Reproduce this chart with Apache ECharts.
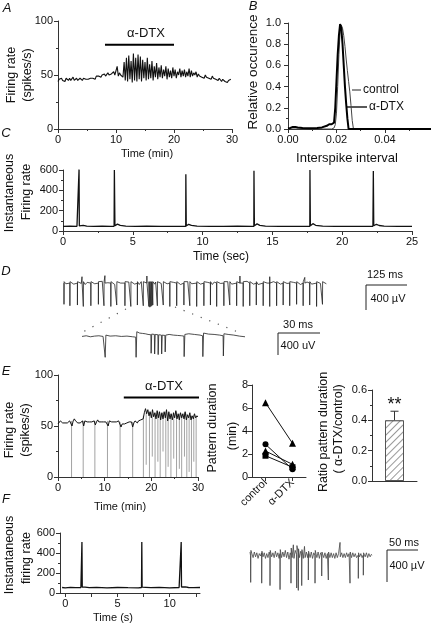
<!DOCTYPE html>
<html><head><meta charset="utf-8">
<script src="https://cdn.jsdelivr.net/npm/echarts@6/dist/echarts.min.js"></script>
<style>html,body{margin:0;padding:0;background:#fff}#c{width:431px;height:626px}</style>
</head><body><div id="c"></div>
<script>
// ---------- DATA ----------
// Panel A: firing rate (spikes/s), sampled every 0.2 min from 0 min
const aStep = 0.2;
const aVals = [
 44,46,45,47,45, 46,44,47,46,45, 47,45,46,48,45, 46,47,45,46,47, 46,45,47,46,46,
 47,46,45,47,46, 47,48,46,49,48, 49,50,48,50,49, 51,49,50,52,50, 49,51,50,53,50,
 51,58,49,52,50, 50,48,62,45,66, 44,68,46,63,43, 70,45,66,44,69, 46,67,44,64,47,
 62,45,66,46,60, 47,63,45,58,48, 61,46,57,48,59, 47,55,49,58,46, 56,48,54,47,57,
 49,55,47,53,50, 56,48,54,49,55, 48,53,49,56,48, 54,49,52,50,53, 48,51,49,50,48,
 49,47,50,48,49, 47,48,46,49,47, 48,46,47,45,47, 46,44,46,45,44, 45,43,45,44,46
];
const aDrugBar = [[8.1, 78], [20, 78]];

// Panel B: interspike interval histograms
const bCtrlX = [0,0.018,0.019,0.0195,0.020,0.0205,0.021,0.0215,0.022,0.0225,0.023,0.0235,0.024,0.0245,0.025,0.0255,0.026,0.0265,0.027,0.059];
const bCtrlY = [0,0,0.01,0.04,0.15,0.4,0.7,0.92,0.98,0.95,0.88,0.78,0.66,0.55,0.45,0.35,0.22,0.08,0,0];
const bDtxX = [0,0.001,0.002,0.003,0.004,0.006,0.009,0.012,0.014,0.016,0.017,0.0175,0.018,0.0185,0.019,0.0195,0.020,0.0205,0.021,0.0215,0.022,0.0225,0.023,0.0235,0.024,0.0245,0.025,0.059];
const bDtxY = [0.005,0.01,0.02,0.02,0.015,0.01,0.008,0.01,0.015,0.03,0.045,0.05,0.045,0.04,0.06,0.2,0.45,0.7,0.88,0.99,0.95,0.8,0.6,0.4,0.24,0.1,0,0];

// Panel C: instantaneous firing rate (time s, rate)
const cTrace = [[0,45],[0.5,47],[1.0,46],[1.1,60],[1.13,45],[1.15,606],[1.17,50],[1.3,62],[1.45,55],[1.7,48],[2.2,46],[2.8,47],[3.4,45],[3.66,46],[3.68,600],[3.72,52],[3.9,68],[4.1,55],[4.5,48],[5.2,46],[6,47],[7,45],[8,46],[8.6,45],[8.79,46],[8.8,557],[8.83,50],[9.0,66],[9.2,55],[9.6,47],[10.5,46],[11.5,45],[12.5,47],[13.5,46],[13.67,45],[13.68,593],[13.71,52],[13.9,70],[14.1,56],[14.5,48],[15.5,46],[16.5,45],[17.5,46],[17.68,46],[17.69,600],[17.72,52],[17.9,72],[18.1,56],[18.6,47],[19.5,45],[20.5,46],[21.5,45],[22.2,46],[22.23,590],[22.26,52],[22.45,66],[22.65,54],[23,47],[24,46],[25,45]];

// Panel D: extracellular recording, spike times (ms) and depths (uV)
const dSpikeT = [12,30,53,71,94,117,134,155,173,198, 216,236,254,271,274,277,280,283,297,315,
 335,356,378,396,417,439,459,478,500,518, 539,559,579,599,620,640,661,681,701,722, 742,762,783,801];
const dSpikeA = [300,320,310,330,320,300,320,330,310,320, 330,310,320,330,340,330,320,310,320,310,
 330,320,310,320,330,320,310,330,320,310, 320,330,320,310,320,330,320,310,320,300, 320,310,330,300];
const dNoise = [-10,15, 5,-15, 20,-5, -20,10, 15,-10, 0,25, -15,5, 10,-20, 25,0, -5,15,
 10,-15, -20,20, 5,-10, 15,-5, -10,10, 20,-15, 0,15, -15,5, 10,-5, 25,-10,
 -5,10, 15,-20, 0,20, -10,5, 20,-15, 5,10, -20,15, 10,-5, 0,20, -15,10,
 15,-10, -5,25, 10,-15, -20,5, 15,0, -10,20, 5,-15, 20,-5, -5,10, 10,-20,
 0,15, -15,10, 20,-5, 5,-10];
const dUpT = [67,137,265,549,640,747];
const dUpV = [90,110,100,100,90,80];
const dInset = [[0,-10],[3,0],[6,-15],[9,-5],[12,0],[15,-10],[16.2,-5],[16.5,-320],[17,10],[20,-5],[24,0],[28,-10],[32,-5],[36,-15],[38.2,-20],[38.5,-320],[39,60],[41,40],[43,35],[45,30],[47,20],[49,15],[49.2,-260],[49.6,25],[51.5,20],[51.7,-270],[52.1,20],[54,15],[54.2,-280],[54.6,15],[56.5,10],[56.7,-270],[57.1,10],[59,5],[59.2,-240],[59.6,10],[62,20],[65,10],[68,5],[71,0],[72.5,-5],[72.7,-310],[73.2,20],[76,30],[80,20],[84,10],[85.8,0],[86,-310],[86.5,40],[90,25],[94,20],[98,10],[100.4,0],[100.6,-300],[101,30],[104,20],[108,10],[112,-5],[116,-15]];

// Panel E: firing rate, every 0.25 min from 0
const eStep = 0.25;
const eVals = [
 52,53,55,54, 53,52,53,52, 53,54,55,54, 50,55,57,55, 54,53,54,53, 54,55,50,55,
 56,54,53,54, 53,54,53,55, 51,54,56,54, 53,54,53,54, 53,54,55,50, 55,56,54,53,
 54,53,54,53, 55,54,49,52, 51,52,51,53, 52,54,55,54, 49,53,55,54, 53,55,54,56,
 55,57,63,67, 62,66,60,64, 58,66,59,63, 57,65,58,64, 56,63,57,64, 58,66,55,64,
 57,62,56,63, 58,65,57,62, 56,63,58,62, 57,64,56,61, 58,63,56,60, 57,62,58,60, 59
];
const eDropT  = [2.9,5.4,7.9,10.6,13.3,16.0,18.3,18.9,19.6,20.2,20.8,21.4,21.9,22.5,23.1,23.6,24.2,24.8,25.4,26.0,26.5,27.1,27.6,28.1,28.6,29.1,29.6];
const eDropHi = [55,55,55,55,54,54,60,63,64,62,63,64,62,63,64,63,62,63,64,62,61,63,62,61,60,61,59];
const eDropLo = [0,0,0,0,0,0,0,12,0,20,0,15,0,25,0,10,0,18,0,8,0,20,0,5,0,15,0];
const eDrugBar = [[14.1, 78], [30.8, 78]];
const pdCategories = ['control', 'α-DTX'];
const pdSubjects = [
 {symbol:'triangle', values:[6.46, 2.93]},
 {symbol:'circle', values:[2.84, 0.67]},
 {symbol:'triangle', values:[2.26, 1.10]},
 {symbol:'rect', values:[1.85, 0.85]}
];
const ratioValue = 0.40, ratioLo = 0.34, ratioHi = 0.46;

// Panel F
const fTrace = [[-0.3,55],[0,52],[0.5,56],[1.0,53],[1.5,55],[1.58,55],[1.6,510],[1.63,58],[1.75,70],[1.9,58],[2.3,53],[3,56],[4,52],[5,55],[6,53],[7.0,52],[7.3,55],[7.33,510],[7.36,58],[7.5,64],[7.7,56],[8.2,53],[9,56],[10,52],[10.9,55],[11.08,55],[11.1,510],[11.13,60],[11.3,76],[11.5,62],[11.8,55],[12.3,53],[12.9,55]];
const fRaw = [[0,40],[0.8,0],[1.1,-340],[1.5,60],[3,20],[5,-30],[7,40],[9,-20],[11,30],[13,-40],[15,20],[17,-10],[18.6,30],[18.9,-350],[19.3,50],[21,-20],[23,30],[25,-40],[27,20],[29,-30],[31,40],[32.1,0],[32.3,-380],[32.7,60],[35,-20],[37,30],[39,-30],[41,50],[43,-20],[45,30],[47,-40],[48.3,20],[48.5,-430],[48.9,70],[51,-30],[53,40],[55,-20],[57,60],[59,-30],[61,40],[63,-50],[65,30],[66,0],[66.2,-350],[66.6,90],[68,-30],[70,130],[71,-40],[73,60],[75.2,10],[75.4,-410],[75.8,120],[77.8,30],[78,-440],[78.4,80],[80,-30],[82,50],[83.3,20],[83.5,-380],[83.9,70],[86,-40],[88,110],[89,-30],[91,40],[93,-30],[94,20],[94.2,-310],[94.6,50],[97,-30],[99,40],[101,-40],[103,30],[104.8,0],[105,-350],[105.4,60],[108,-30],[110,40],[112,-40],[114,30],[115.6,0],[115.8,-260],[116.2,40],[119,-30],[121,30],[123,-40],[125,20],[126.3,0],[126.5,-310],[126.9,40],[129,-30],[131,30],[133,-30],[135,20],[137,-40],[139,30],[141,-30],[143,20],[145.2,0],[145.4,160],[145.8,-20],[148,30],[150,-30],[152,20],[154,-30],[156,30],[158,-20],[160,20],[161.3,0],[161.5,-350],[161.9,40],[164,-30],[166,30],[168,-20],[170,20],[172,-30],[174.7,0],[174.9,-290],[175.3,30],[177,-20],[179,20],[181,-30],[182.8,0],[183,-250],[183.4,30],[186,-20],[188,30],[190,-30],[192,20],[194,-20],[196,10],[197,0]];

// ---------- BUILD ----------
const FONT = '"Liberation Sans", Arial, sans-serif';
const AX = '#333';

const aData = aVals.map((v, i) => [+(i * aStep).toFixed(2), v]);
const eData = eVals.map((v, i) => [i * eStep, v]);
const bCtrl = bCtrlX.map((x, i) => [x, bCtrlY[i]]);
const bDtx = bDtxX.map((x, i) => [x, bDtxY[i]]);
const eDrops = [];
eDropT.forEach((t, i) => { eDrops.push([t, eDropHi[i]], [t, eDropLo[i]], [t, '-']); });

const dPts = [];
dSpikeT.forEach((t, i) => {
  dPts.push([t, 0], [t + 0.2, -dSpikeA[i]], [t + 0.6, 20]);
  dPts.push([t + 6, dNoise[2 * i]], [t + 12, dNoise[2 * i + 1]]);
});
dUpT.forEach((t, i) => { dPts.push([t, 0], [t + 0.2, dUpV[i]], [t + 0.5, 0]); });
dPts.sort((a, b) => a[0] - b[0]);

function vAxis(gi, min, max, interval, o) {
  o = o || {};
  const lab = {color:'#111', fontSize:11, fontFamily:FONT, margin:o.margin || 5};
  if (o.fmt) lab.formatter = o.fmt;
  if (o.noMax) lab.showMaxLabel = false;
  if (o.labels) lab.customValues = o.labels;
  const tick = {show:true, length:4, lineStyle:{color:AX}};
  if (o.ticks) tick.customValues = o.ticks;
  const ax = {
    type:'value', gridIndex:gi, min:min, max:max,
    axisLine:{show:true, onZero:false, lineStyle:{color:AX, width:1}},
    axisTick:tick,
    minorTick:{show:o.minor !== false, splitNumber:2, length:2, lineStyle:{color:AX}},
    splitLine:{show:false},
    axisLabel:lab
  };
  if (interval != null) ax.interval = interval;
  return ax;
}
function hAxis(gi, min, max) { return {type:'value', gridIndex:gi, min:min, max:max, show:false}; }

const grids = [
  {left:58, top:21, width:174, height:108},   // A
  {left:288, top:23, width:143, height:106},  // B
  {left:63, top:170, width:349, height:61},   // C
  {left:60, top:276, width:267, height:34},   // D top
  {left:82, top:325, width:163, height:35},   // D inset
  {left:58, top:375, width:140, height:102},  // E left
  {left:252, top:385, width:54, height:92},   // E mid
  {left:372, top:390, width:45, height:91},   // E right
  {left:60, top:533, width:140, height:60},   // F
  {left:250, top:540, width:122, height:52}   // F right
];

const xAxes = [
  vAxis(0, 0, 30, 10),
  vAxis(1, 0, 0.059, 0.02, {fmt: v => v.toFixed(2), noMax:true}),
  vAxis(2, 0, 25, 5),
  hAxis(3, 0, 815),
  hAxis(4, 0, 116),
  vAxis(5, 0, 30, 10),
  {type:'category', gridIndex:6, data:pdCategories, boundaryGap:true,
   axisLine:{show:true, lineStyle:{color:AX}}, axisTick:{show:true, alignWithLabel:true, length:4, lineStyle:{color:AX}},
   axisLabel:{rotate:45, interval:0, fontSize:11, fontFamily:FONT, color:'#111', margin:4}},
  {type:'category', gridIndex:7, data:[''], boundaryGap:true,
   axisLine:{show:true, lineStyle:{color:AX}}, axisTick:{show:false}, axisLabel:{show:false}},
  vAxis(8, -0.5, 12.9, null, {minor:false, labels:[0,5,10], ticks:[0,2.5,5,7.5,10,12.5]}),
  hAxis(9, 0, 197)
];
const yAxes = [
  vAxis(0, 0, 100, 50),
  vAxis(1, 0, 1, 0.2, {fmt: v => v.toFixed(1), margin:7}),
  vAxis(2, 0, 600, 200),
  hAxis(3, -380, 100),
  hAxis(4, -360, 160),
  vAxis(5, 0, 100, 50),
  vAxis(6, 0, 8, 2, {minor:false, margin:4}),
  vAxis(7, 0, 0.6, 0.2, {fmt: v => v.toFixed(1)}),
  vAxis(8, 0, 600, 200),
  hAxis(9, -460, 190)
];

function lineS(xi, data, color, width, extra) {
  return Object.assign({type:'line', xAxisIndex:xi, yAxisIndex:xi, data:data, symbol:'none',
    lineStyle:{color:color, width:width}, animation:false, silent:true}, extra || {});
}

const series = [
  lineS(0, aData, '#111', 1.1),
  lineS(0, aDrugBar, '#000', 2),
  lineS(1, bCtrl, '#444', 1),
  lineS(1, bDtx, '#000', 2),
  lineS(2, cTrace, '#111', 1.3),
  lineS(3, dPts, '#222', 0.8),
  lineS(4, dInset, '#222', 0.8),
  lineS(5, eDrops, '#999', 0.9, {connectNulls:false}),
  lineS(5, eData, '#111', 1),
  lineS(5, eDrugBar, '#000', 2, {clip:false}),
  lineS(8, fTrace, '#111', 1.3),
  lineS(9, fRaw, '#444', 0.8)
];
pdSubjects.forEach(s => {
  series.push({type:'line', xAxisIndex:6, yAxisIndex:6, data:s.values, symbol:s.symbol, symbolSize:s.symbol==='triangle'?7:6,
    itemStyle:{color:'#000'}, lineStyle:{color:'#111', width:1}, animation:false, silent:true});
});
series.push({type:'bar', xAxisIndex:7, yAxisIndex:7, data:[ratioValue], barWidth:19, animation:false, silent:true,
  itemStyle:{color:'#fff', borderColor:'#555', borderWidth:1,
    decal:{symbol:'rect', symbolSize:1, dashArrayX:[1,0], dashArrayY:[1,4], rotation:-Math.PI/4, color:'#999', backgroundColor:'#fff'}}});
series.push({type:'custom', xAxisIndex:7, yAxisIndex:7, data:[[0, ratioLo, ratioHi]], animation:false, silent:true,
  encode:{x:0, y:[1,2]},
  renderItem:function(params, api){
    const lo = api.coord([api.value(0), api.value(1)]);
    const hi = api.coord([api.value(0), api.value(2)]);
    const w = 4;
    return {type:'group', children:[
      {type:'line', shape:{x1:lo[0], y1:lo[1], x2:hi[0], y2:hi[1]}, style:{stroke:'#333', lineWidth:1}},
      {type:'line', shape:{x1:lo[0]-w, y1:lo[1], x2:lo[0]+w, y2:lo[1]}, style:{stroke:'#333', lineWidth:1}},
      {type:'line', shape:{x1:hi[0]-w, y1:hi[1], x2:hi[0]+w, y2:hi[1]}, style:{stroke:'#333', lineWidth:1}},
      {type:'text', x:hi[0], y:hi[1]-6, style:{text:'**', align:'center', verticalAlign:'middle', fontSize:18, fontFamily:FONT, fill:'#111'}}
    ]};
  }});

// ---------- GRAPHIC (titles, letters, scale bars) ----------
function T(text, x, y, o) {
  o = o || {};
  return {type:'text', x:x, y:y, rotation:o.rot || 0, silent:true,
    style:{text:text, fontSize:o.size || 11, fontFamily:FONT, fill:'#111', align:o.align || 'center', verticalAlign:'middle', fontStyle:o.italic ? 'italic' : 'normal'}};
}
function L(x1, y1, x2, y2, w) { return {type:'line', silent:true, shape:{x1:x1, y1:y1, x2:x2, y2:y2}, style:{stroke:'#222', lineWidth:w || 1}}; }
const R = Math.PI / 2;
const graphic = [
  T('A', 7, 8, {size:13, italic:true}),
  T('B', 253, 6, {size:13, italic:true}),
  T('C', 6, 133, {size:13, italic:true}),
  T('D', 6, 271, {size:13, italic:true}),
  T('E', 6, 371, {size:13, italic:true}),
  T('F', 6, 499, {size:13, italic:true}),
  // A
  T('Firing rate', 12, 75, {size:12.5, rot:R}),
  T('(spikes/s)', 28, 75, {size:12.5, rot:R}),
  T('Time (min)', 147, 154, {size:11}),
  T('α-DTX', 146, 33, {size:13}),
  // B
  T('Relative occurence', 253, 72, {size:13.5, rot:R}),
  T('Interspike interval', 347, 158, {size:13}),
  T('control', 363, 90, {size:12, align:'left'}),
  L(352, 90, 361, 90, 1),
  T('α-DTX', 369, 107, {size:12, align:'left'}),
  L(347, 107, 367, 107, 1.5),
  // C
  T('Instantaneous', 10, 193, {size:12.5, rot:R}),
  T('Firing rate', 27, 192, {size:12.5, rot:R}),
  T('Time (sec)', 221, 257, {size:12}),
  // D
  L(366, 285, 407, 285), L(366, 285, 366, 310),
  T('125 ms', 385, 275, {size:11}),
  T('400 µV', 388, 299, {size:11}),
  L(278, 333, 320, 333), L(278, 333, 278, 355),
  T('30 ms', 298, 325, {size:11}),
  T('400 uV', 298, 346, {size:11}),
  {type:'polyline', silent:true, shape:{points:[[126,309],[79,334]]}, style:{stroke:'#555', lineWidth:1.2, lineDash:[1.2,8], fill:null}},
  {type:'polyline', silent:true, shape:{points:[[175,307],[243,334]]}, style:{stroke:'#555', lineWidth:1.2, lineDash:[1.2,8], fill:null}},
  // E
  T('Firing rate', 10, 430, {size:12.5, rot:R}),
  T('(spikes/s)', 26, 430, {size:12.5, rot:R}),
  T('Time (min)', 120, 507, {size:11}),
  T('α-DTX', 164, 386, {size:13}),
  T('Pattern duration', 213, 428, {size:12.5, rot:R}),
  T('(min)', 233, 436, {size:12.5, rot:R}),
  T('Ratio pattern duration', 324, 432, {size:12.5, rot:R}),
  T('( α-DTX/control)', 339, 429, {size:12.5, rot:R}),
  // F
  T('Instantaneous', 10, 555, {size:12.5, rot:R}),
  T('firing rate', 27, 558, {size:12.5, rot:R}),
  T('Time (s)', 113, 618, {size:11}),
  L(387, 550, 418, 550), L(387, 550, 387, 582),
  T('50 ms', 404, 543, {size:11}),
  T('400 µV', 407, 566, {size:11})
];

const chart = echarts.init(document.getElementById('c'), null, {renderer:'canvas'});
chart.setOption({
  animation:false,
  backgroundColor:'#fff',
  textStyle:{fontFamily:FONT},
  grid:grids, xAxis:xAxes, yAxis:yAxes, series:series, graphic:graphic
});
</script></body></html>
